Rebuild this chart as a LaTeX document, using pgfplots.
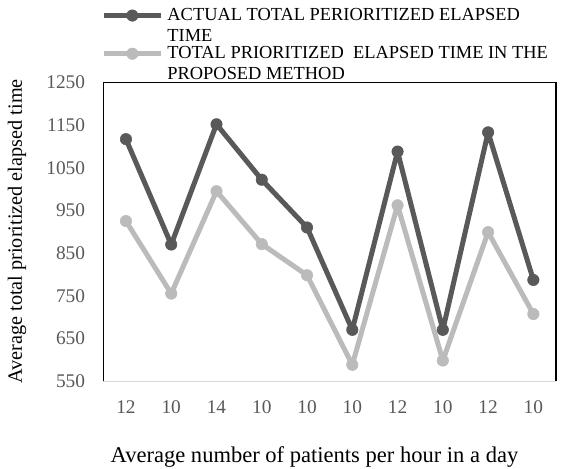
\documentclass[border=0pt]{standalone}
\usepackage{fontspec}
\setmainfont{Liberation Serif}
\usepackage{pgfplots}
\pgfplotsset{compat=1.18}
\definecolor{darkS}{HTML}{595959}
\definecolor{lightS}{HTML}{BBBBBB}
\definecolor{tickc}{HTML}{595959}
\definecolor{gridc}{HTML}{D9D9D9}
\begin{document}
\begin{tikzpicture}
\begin{axis}[
  scale only axis, width=339.5pt, height=223.9pt,
  xmin=-0.5, xmax=9.5, ymin=550, ymax=1250,
  xtick={0,...,9}, xticklabels={12,10,14,10,10,10,12,10,12,10},
  ytick={550,650,...,1250},
  major tick length=0pt,
  axis line style={draw=none},
  clip=false,
  /pgf/number format/assume math mode=true,
  /pgf/number format/1000 sep={},
  ticklabel style={font=\fontsize{14.5}{17}\selectfont, text=tickc},
  yticklabel style={anchor=east, inner sep=0pt, xshift=-13.5pt},
  xticklabel style={anchor=base, inner sep=0pt, yshift=-24.2pt},
  xlabel={Average number of patients per hour in a day},
  ylabel={Average total prioritized elapsed time},
  xlabel style={font=\fontsize{16.9}{19}\selectfont, at={(axis description cs:0.4665,-0.2714)}, anchor=base, inner sep=0pt},
  ylabel style={font=\fontsize{15.2}{18}\selectfont, at={(axis description cs:-0.180,0.5008)}, anchor=base, inner sep=0pt},
  legend style={draw=none, fill=none, inner sep=0pt, outer sep=0pt,
    at={(axis description cs:-0.004,1.2479)}, anchor=north west,
    row sep=18pt, column sep=3.2pt,
    font=\fontsize{13.8}{15.4}\selectfont,
    nodes={inner sep=0pt}},
  legend cell align=left,
  legend image code/.code={\draw[#1, mark repeat=2, mark phase=2] plot coordinates {(0pt,0pt) (21.25pt,0pt) (42.5pt,0pt)};},
]
\addplot[darkS, line width=3.75pt, line join=round, mark=*, mark size=4.3pt, mark options={solid, fill=darkS, draw=darkS, line width=0.4pt}]
  coordinates {(0,1117) (1,870) (2,1152) (3,1022) (4,910) (5,670) (6,1088) (7,670) (8,1133) (9,787)};
\addlegendentry{\parbox[t]{295pt}{\raggedright ACTUAL TOTAL PERIORITIZED ELAPSED\\TIME}}
\addplot[lightS, line width=3.75pt, line join=round, mark=*, mark size=4.3pt, mark options={solid, fill=lightS, draw=lightS, line width=0.4pt}]
  coordinates {(0,925) (1,755) (2,995) (3,871) (4,798) (5,588) (6,962) (7,598) (8,899) (9,707)};
\addlegendentry{\parbox[t]{295pt}{\raggedright TOTAL PRIORITIZED\ \ ELAPSED TIME IN THE\\PROPOSED METHOD}}
\draw[gridc, line width=0.75pt] (rel axis cs:0,0) -- (rel axis cs:1,0);
\draw[black, line width=0.9pt] (rel axis cs:0,0) -- (rel axis cs:0,1) -- (rel axis cs:1,1) -- (rel axis cs:1,0);
\coordinate (SW) at (rel axis cs:0,0);
\end{axis}
\pgfresetboundingbox
\path[use as bounding box] ([shift={(-77.5pt,-65.25pt)}]SW) rectangle ([shift={(344.75pt,285.75pt)}]SW);
\end{tikzpicture}
\end{document}
